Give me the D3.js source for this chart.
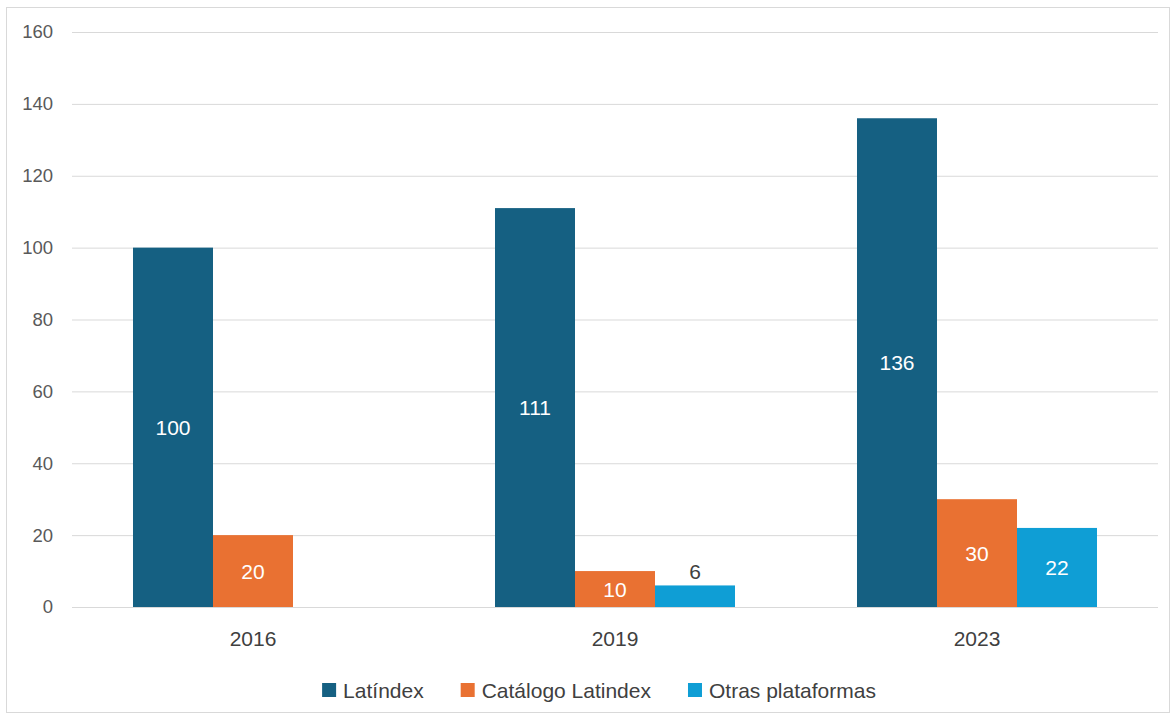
<!DOCTYPE html>
<html><head><meta charset="utf-8">
<script src="https://cdn.jsdelivr.net/npm/d3@7"></script>
<style>body{margin:0;background:#fff}svg{display:block}</style>
</head><body>
<script>
const categories = ["2016", "2019", "2023"];
const seriesNames = ["Latíndex", "Catálogo Latindex", "Otras plataformas"];
const latindex = [100, 111, 136];
const catalogo = [20, 10, 30];
const otras = [null, 6, 22];
const yTicks = [0, 20, 40, 60, 80, 100, 120, 140, 160];
const colors = ["#156082", "#E97132", "#0F9ED5"];

const W = 1176, H = 719;
const font = "'Liberation Sans', Arial, sans-serif";
const svg = d3.select("body").append("svg").attr("width", W).attr("height", H);
svg.append("rect").attr("x", 6.5).attr("y", 7.5).attr("width", 1163).attr("height", 705)
  .attr("fill", "#fff").attr("stroke", "#d9d9d9").attr("stroke-width", 1);

const plot = {left: 72, right: 1158, top: 32, bottom: 607};
const y = d3.scaleLinear().domain([0, 160]).range([plot.bottom, plot.top]);
const x0 = d3.scaleBand().domain(categories).range([plot.left, plot.right]).paddingInner(0.337).paddingOuter(0.1685);
const x1 = d3.scaleBand().domain(seriesNames).range([0, x0.bandwidth()]);

// gridlines
const yAxis = d3.axisLeft(y).tickValues(yTicks).tickSize(-(plot.right - plot.left)).tickPadding(19);
const gy = svg.append("g").attr("transform", `translate(${plot.left},0)`).call(yAxis);
gy.select(".domain").remove();
gy.selectAll(".tick line").attr("stroke", "#d9d9d9").attr("stroke-width", 1);
gy.selectAll(".tick text").attr("fill", "#595959").style("font-family", font).style("font-size", "18.5px");

const xAxis = d3.axisBottom(x0).tickSize(0).tickPadding(24);
const gx = svg.append("g").attr("transform", `translate(0,${plot.bottom})`).call(xAxis);
gx.select(".domain").remove();
gx.selectAll(".tick text").attr("fill", "#404040").style("font-family", font).style("font-size", "21px");

const series = [latindex, catalogo, otras];
const data = [];
categories.forEach((c, i) => series.forEach((s, j) => {
  if (s[i] != null) data.push({cat: c, name: seriesNames[j], v: s[i], j});
}));

svg.append("g").selectAll("rect").data(data).join("rect")
  .attr("x", d => x0(d.cat) + x1(d.name))
  .attr("y", d => y(d.v))
  .attr("width", x1.bandwidth())
  .attr("height", d => y(0) - y(d.v))
  .attr("fill", d => colors[d.j]);

svg.append("g").selectAll("text").data(data).join("text")
  .attr("x", d => x0(d.cat) + x1(d.name) + x1.bandwidth() / 2)
  .attr("y", d => {
    const h = y(0) - y(d.v);
    return h < 26 ? y(d.v) - 6 : (y(d.v) + y(0)) / 2 + 7.5;
  })
  .attr("text-anchor", "middle")
  .attr("fill", d => (y(0) - y(d.v)) < 26 ? "#404040" : "#ffffff")
  .style("font-family", font).style("font-size", "21px")
  .text(d => d.v);

// legend
const legend = svg.append("g");
const legY = 690;
const fs = 21;
let items = seriesNames.map((n, i) => ({n, i}));
const tmp = svg.append("text").style("font-family", font).style("font-size", fs + "px");
items.forEach(it => { tmp.text(it.n); it.w = tmp.node().getComputedTextLength(); });
tmp.remove();
const sq = 14, gapSq = 7, gapItem = 37;
const total = d3.sum(items, it => sq + gapSq + it.w) + gapItem * (items.length - 1);
let cx = 599 - total / 2;
items.forEach(it => {
  legend.append("rect").attr("x", cx).attr("y", legY - sq / 2).attr("width", sq).attr("height", sq).attr("fill", colors[it.i]);
  legend.append("text").attr("x", cx + sq + gapSq).attr("y", legY + 7.5)
    .attr("fill", "#404040").style("font-family", font).style("font-size", fs + "px").text(it.n);
  cx += sq + gapSq + it.w + gapItem;
});
</script>
</body></html>
